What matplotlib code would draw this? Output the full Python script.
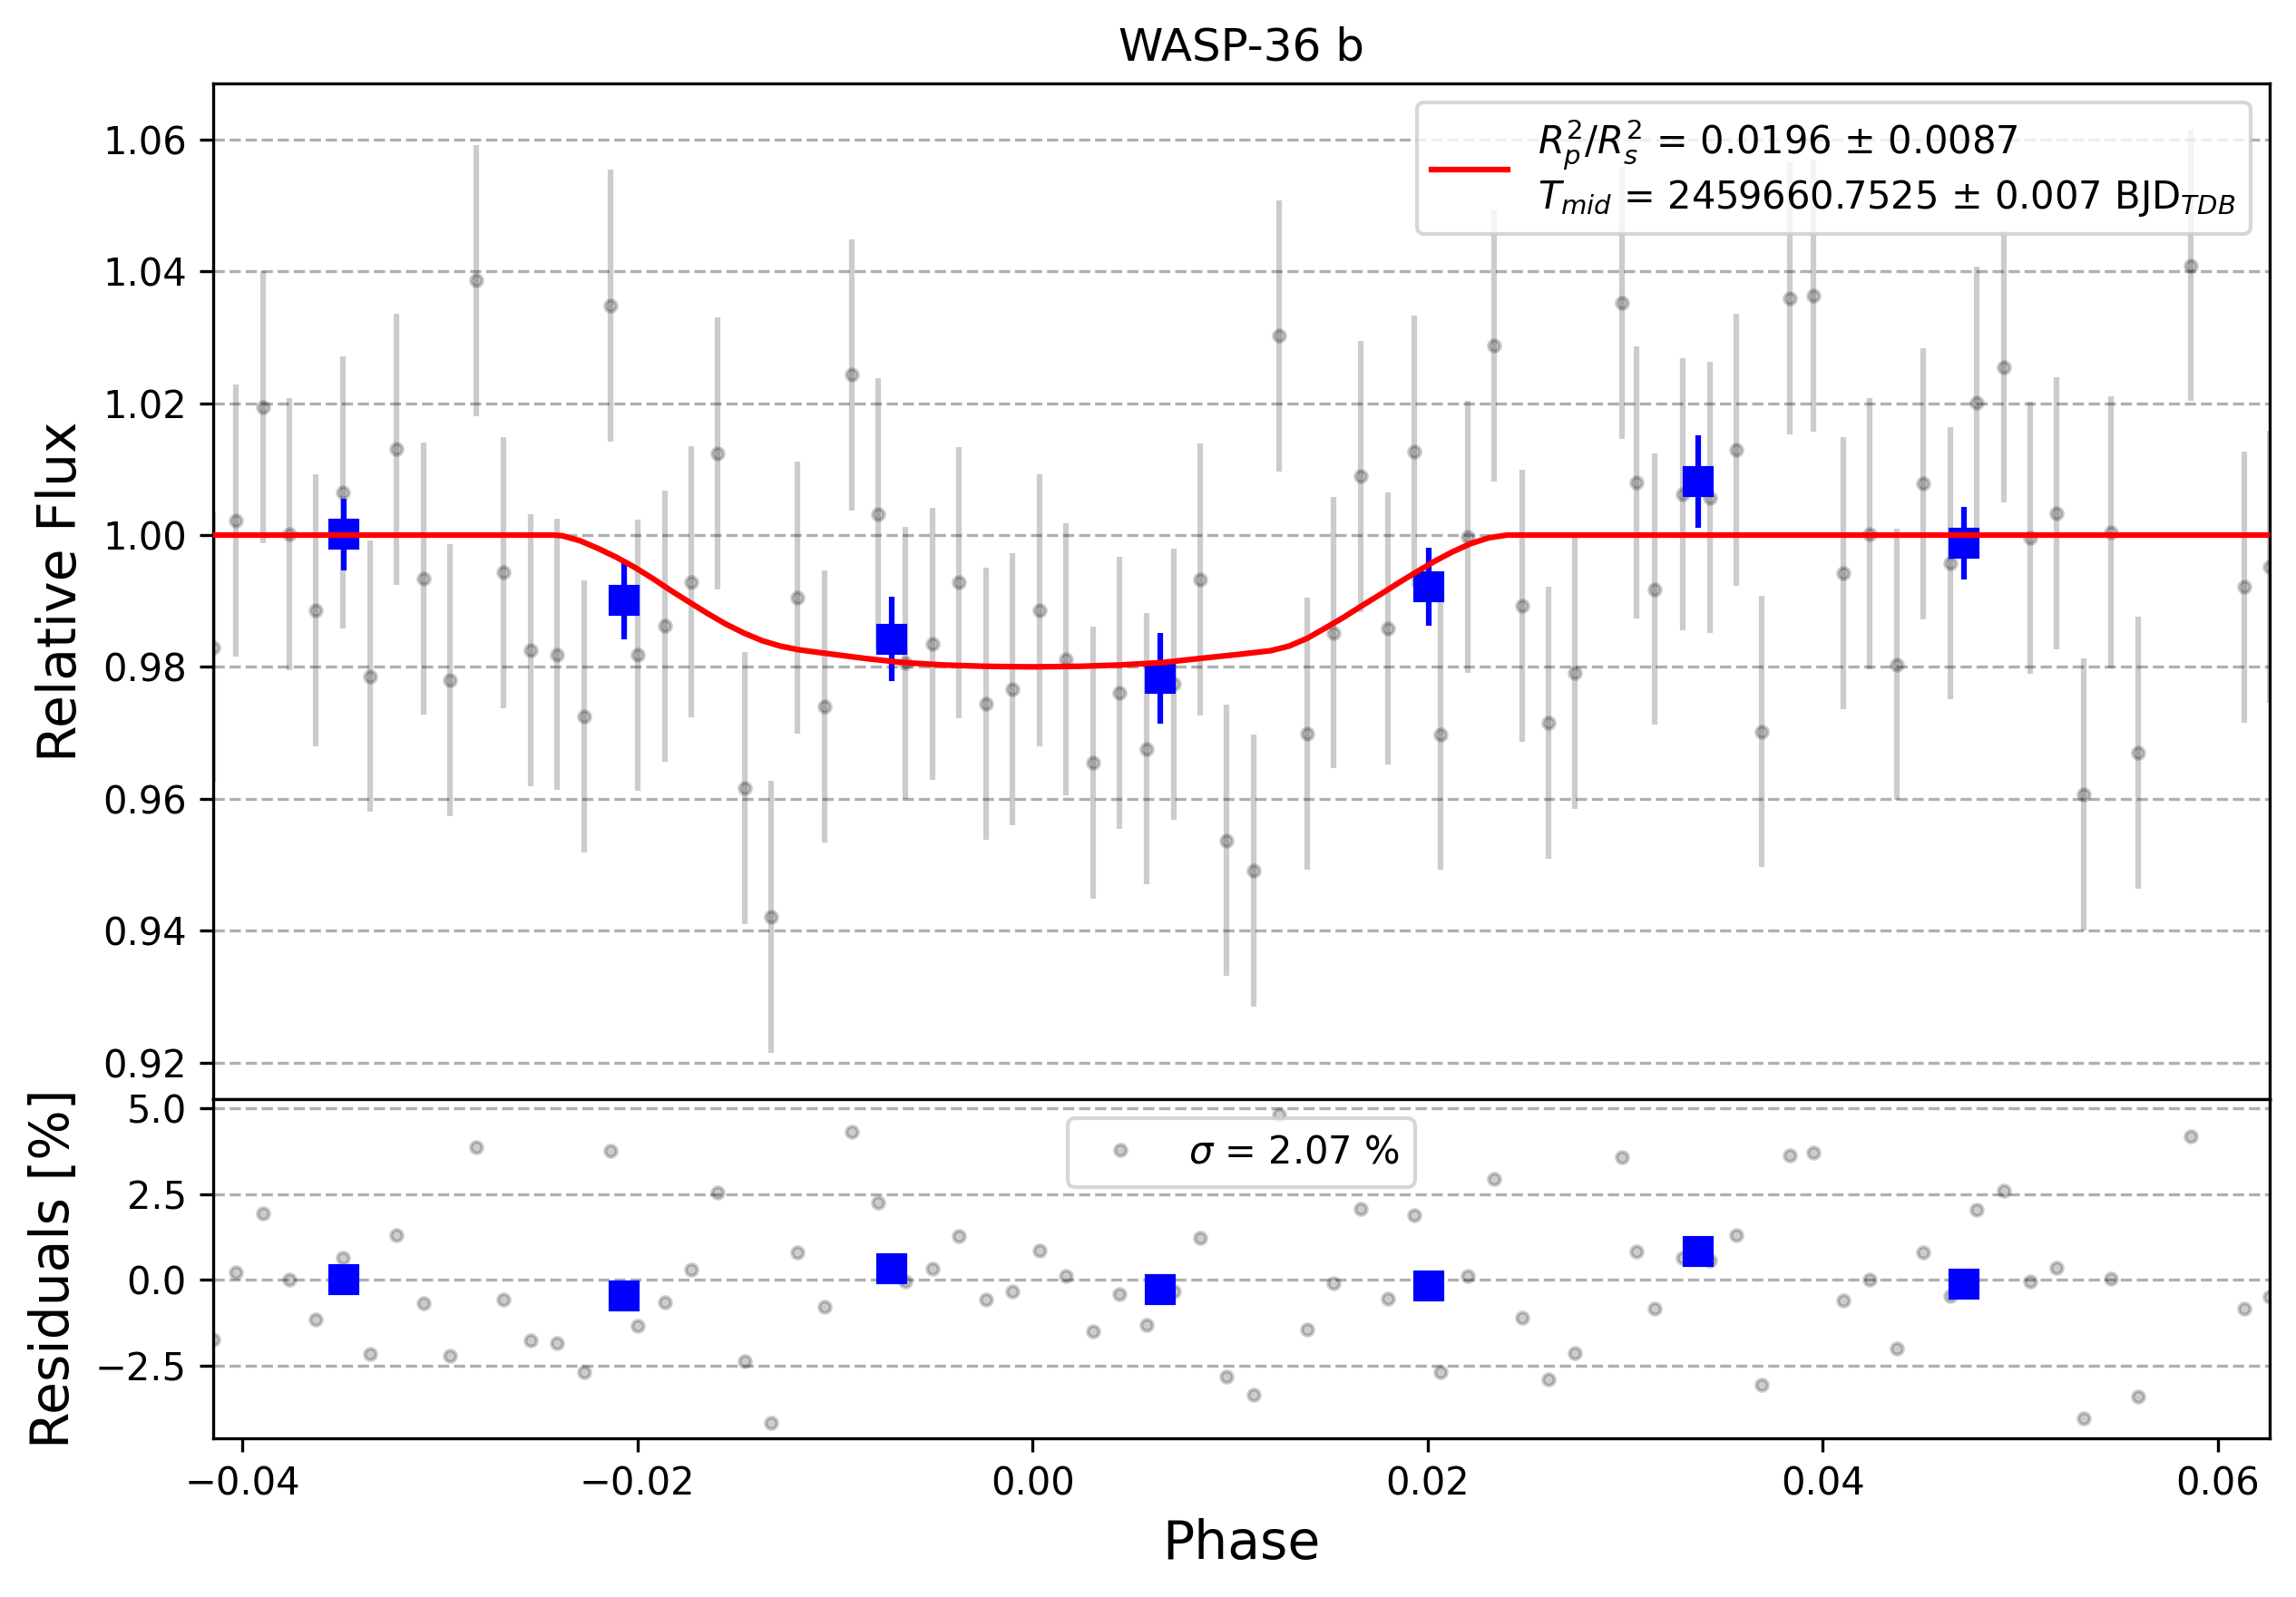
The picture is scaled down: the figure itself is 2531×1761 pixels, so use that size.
import matplotlib
matplotlib.use("Agg")
import matplotlib.pyplot as plt

# ---- data ----
phase = [-0.04148, -0.04033, -0.03897, -0.03764, -0.03627, -0.03491, -0.03355, -0.03220,
         -0.03083, -0.02949, -0.02814, -0.02678, -0.02541, -0.02407, -0.02270, -0.02136,
         -0.01999, -0.01863, -0.01728, -0.01594, -0.01455,
         -0.01322, -0.01190, -0.01051, -0.00914, -0.00780, -0.00646, -0.00508, -0.00372,
         -0.00237, -0.00103, 0.00034, 0.00170, 0.00305, 0.00439, 0.00576, 0.00714,
         0.00849, 0.00983, 0.01118, 0.01248,
         0.01390, 0.01524, 0.01661, 0.01799, 0.01932, 0.02066, 0.02203, 0.02337,
         0.02476, 0.02613, 0.02745, 0.02981, 0.03055, 0.03150, 0.03289, 0.03428,
         0.03560, 0.03692, 0.03831, 0.03950,
         0.04103, 0.04236, 0.04374, 0.04509, 0.04645, 0.04778, 0.04916, 0.05049,
         0.05184, 0.05321, 0.05459, 0.05594, 0.05864, 0.06135, 0.06261]

flux = [0.9830, 1.0022, 1.0194, 1.0001, 0.9886, 1.0065, 0.9786, 1.0130,
        0.9934, 0.9780, 1.0386, 0.9943, 0.9825, 0.9819, 0.9725, 1.0348,
        0.9818, 0.9862, 0.9929, 1.0124, 0.9616,
        0.9421, 0.9905, 0.9740, 1.0243, 1.0032, 0.9806, 0.9835, 0.9928,
        0.9744, 0.9766, 0.9886, 0.9812, 0.9655, 0.9761, 0.9676, 0.9774,
        0.9933, 0.9537, 0.9491, 1.0302,
        0.9699, 0.9852, 1.0089, 0.9858, 1.0127, 0.9698, 0.9997, 1.0287,
        0.9893, 0.9715, 0.9791, 1.0352, 1.0080, 0.9918, 1.0062, 1.0057,
        1.0129, 0.9702, 1.0359, 1.0363,
        0.9942, 1.0002, 0.9804, 1.0078, 0.9957, 1.0201, 1.0255, 0.9996,
        1.0033, 0.9607, 1.0004, 0.9670, 1.0409, 0.9921, 0.9952]

flux_err = 0.0206

residuals = [-1.73, 0.21, 1.94, 0.00, -1.17, 0.63, -2.17, 1.30, -0.69, -2.22, 3.86, -0.58,
             -1.77, -1.85, -2.69, 3.76, -1.35, -0.65, 0.29, 2.53, -2.38, -4.17, 0.79, -0.80,
             4.32, 2.24, -0.05, 0.31, 1.26, -0.59, -0.34, 0.86, 0.11, -1.49, -0.43, -1.32,
             -0.34,
             1.21, -2.82, -3.35, 4.80, -1.45, -0.11, 2.06, -0.56, 1.89, -2.70, 0.12, 2.93,
             -1.10, -2.91, -2.14, 3.57, 0.81, -0.85, 0.63, 0.56, 1.29, -3.06, 3.63, 3.69,
             -0.61, 0.00, -2.01, 0.79, -0.46, 2.03, 2.60, -0.05, 0.34, -4.03, 0.02, -3.40,
             4.19, -0.85, -0.51]

model_phase = [-0.04148, -0.02427, -0.02381, -0.02289, -0.02197, -0.02104, -0.02013, -0.01921,
               -0.01829, -0.01737, -0.01645, -0.01553, -0.01461, -0.01369, -0.01277, -0.01185,
               -0.01047, -0.00850, -0.00650, -0.00450, -0.00240, -0.00030, 0.00030, 0.00240,
               0.00440, 0.00650, 0.00850, 0.01025, 0.01114, 0.01206, 0.01298, 0.01390,
               0.01482, 0.01574, 0.01666, 0.01758, 0.01850, 0.01942, 0.02034, 0.02126,
               0.02218, 0.02310, 0.02402, 0.06261]
model_flux = [1.0, 1.0, 0.9999, 0.99912, 0.99794, 0.99660, 0.99509, 0.99339,
              0.99155, 0.98982, 0.98811, 0.98651, 0.98514, 0.98399, 0.98316, 0.98261,
              0.98206, 0.98130, 0.98065, 0.98030, 0.98010, 0.98002, 0.98002, 0.98010,
              0.98030, 0.98065, 0.98130, 0.98185, 0.98215, 0.98247, 0.98316, 0.98435,
              0.98591, 0.98752, 0.98927, 0.99096, 0.99271, 0.99440, 0.99601, 0.99747,
              0.99871, 0.99959, 1.0, 1.0]

bin_phase = [-0.03487, -0.02068, -0.00712, 0.00645, 0.02003, 0.03371, 0.04715]
bin_flux = [1.0001, 0.9901, 0.9842, 0.9783, 0.9922, 1.0081, 0.9988]
bin_err = [0.0054, 0.0059, 0.0064, 0.0069, 0.0059, 0.0070, 0.0055]
bin_res = [0.00, -0.48, 0.31, -0.30, -0.19, 0.81, -0.14]

title = "WASP-36 b"
fit_label = (r"$R_p^2/R_s^2$ = 0.0196 ± 0.0087" + "\n" +
             r"$T_{mid}$ = 2459660.7525 ± 0.007 BJD$_{TDB}$")
sigma_label = r"$\sigma$ = 2.07 %"

# ---- figure ----
fig = plt.figure(figsize=(2531 / 300, 1761 / 300), dpi=300)
gs = fig.add_gridspec(2, 1, height_ratios=[3, 1], hspace=0,
                      left=0.0928, right=0.9885, top=0.9478, bottom=0.0994)
ax1 = fig.add_subplot(gs[0])
ax2 = fig.add_subplot(gs[1], sharex=ax1)

ax1.errorbar(phase, flux, yerr=flux_err, fmt='ko', alpha=0.2, ms=3, zorder=2)
ax1.errorbar(bin_phase, bin_flux, yerr=bin_err, fmt='s', color='blue', ms=7, zorder=3)
ax1.plot(model_phase, model_flux, 'r-', lw=1.5, label=fit_label, zorder=4)
ax1.set_ylim(0.9144, 1.0685)
ax1.set_ylabel("Relative Flux", fontsize=14)
ax1.set_title(title, fontsize=12)
ax1.grid(True, axis='y', ls='--')
ax1.legend(loc='upper right', fontsize=10)
ax1.tick_params(labelbottom=False)

ax2.plot(phase, residuals, 'ko', alpha=0.2, ms=3, label=sigma_label)
ax2.plot(bin_phase, bin_res, 's', color='blue', ms=7)
ax2.set_ylim(-4.62, 5.25)
ax2.set_xlim(phase[0], phase[-1])
ax2.set_ylabel("Residuals [%]", fontsize=14)
ax2.set_xlabel("Phase", fontsize=14)
ax2.grid(True, axis='y', ls='--')
ax2.legend(loc='upper center', fontsize=10)

fig.savefig("out.png", dpi=300)
